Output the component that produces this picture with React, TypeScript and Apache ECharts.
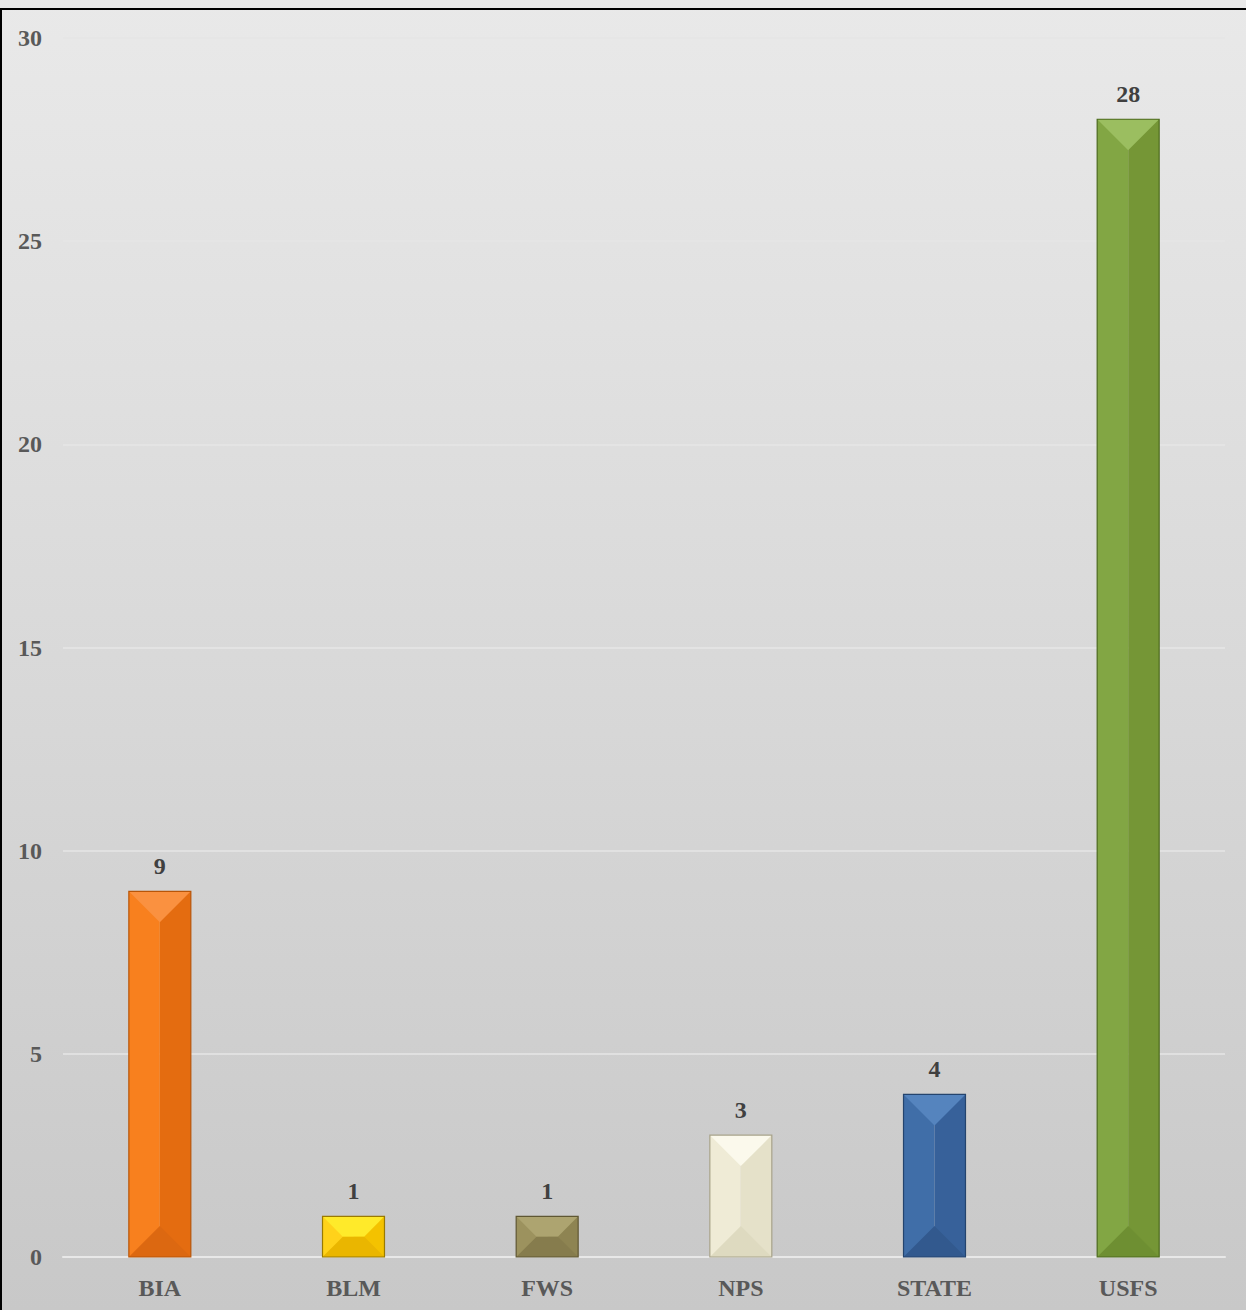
import React, { useEffect, useRef } from "react";
import * as echarts from "echarts";

const categories = ["BIA", "BLM", "FWS", "NPS", "STATE", "USFS"];
const values = [9, 1, 1, 3, 4, 28];
const yTicks = [0, 5, 10, 15, 20, 25, 30];
// [front-left, front-right, top bevel, bottom bevel, border]
const barColors = [
  ["#F8801E", "#E46C10", "#FA9140", "#DC6811", "#B85508"],
  ["#FFD21A", "#F4C200", "#FFEA2A", "#EAB600", "#9A7A00"],
  ["#9C925E", "#8E8452", "#ADA470", "#867C4D", "#5F5733"],
  ["#EFEBD6", "#E5E1C9", "#FBF9EC", "#DEDAC0", "#A8A38A"],
  ["#406EA8", "#37619A", "#5584BE", "#32598E", "#24446E"],
  ["#82A644", "#759636", "#9BBE60", "#6E8F32", "#4C6A1E"],
];

export default function App() {
  const ref = useRef<HTMLDivElement>(null);
  useEffect(() => {
    document.body.style.margin = "0";
    const chart = echarts.init(ref.current!, null, { renderer: "svg" });
    const font = "'Liberation Serif', 'DejaVu Serif', serif";
    chart.setOption({
      animation: false,
      backgroundColor: {
        type: "linear", x: 0, y: 0, x2: 0, y2: 1,
        colorStops: [
          { offset: 0, color: "#E9E9E9" },
          { offset: 0.5, color: "#D9D9D9" },
          { offset: 1, color: "#C8C8C8" },
        ],
      },
      graphic: [
        { type: "line", shape: { x1: 0, y1: 9, x2: 1246, y2: 9 }, style: { stroke: "#000", lineWidth: 2 }, z: 100 },
        { type: "line", shape: { x1: 1, y1: 9, x2: 1, y2: 1310 }, style: { stroke: "#000", lineWidth: 2 }, z: 100 },
      ],
      grid: { left: 63, right: 21, top: 38, bottom: 53, containLabel: false },
      xAxis: {
        type: "category",
        data: categories,
        axisLine: { show: true, lineStyle: { color: "#E8E8E8", width: 2 } },
        axisTick: { show: false },
        axisLabel: { color: "#595959", fontFamily: font, fontWeight: "bold", fontSize: 24, margin: 19 },
      },
      yAxis: {
        type: "value",
        min: 0,
        max: 30,
        interval: 5,
        axisLine: { show: false },
        axisTick: { show: false },
        splitLine: { lineStyle: { color: "#E6E6E6", width: 1.5 } },
        axisLabel: { color: "#595959", fontFamily: font, fontWeight: "bold", fontSize: 24, margin: 21,
          formatter: (v: number) => (yTicks.includes(v) ? String(v) : "") },
      },
      series: [
        {
          type: "custom",
          data: values.map((v, i) => [i, v]),
          renderItem: (params: any, api: any) => {
            const idx = api.value(0);
            const val = api.value(1);
            const top = api.coord([idx, val]);
            const bot = api.coord([idx, 0]);
            const w = api.size([1, 0])[0] * 0.32;
            const x0 = top[0] - w / 2;
            const x1 = top[0] + w / 2;
            const y0 = top[1];
            const y1 = bot[1];
            const h = y1 - y0;
            const d = Math.min(w / 2, h / 2);
            const c = barColors[params.dataIndex];
            const xc = top[0];
            const topPts = d < w / 2
              ? [[x0, y0], [x1, y0], [x1 - d, y0 + d], [x0 + d, y0 + d]]
              : [[x0, y0], [x1, y0], [xc, y0 + d]];
            const botPts = d < w / 2
              ? [[x0, y1], [x1, y1], [x1 - d, y1 - d], [x0 + d, y1 - d]]
              : [[x0, y1], [x1, y1], [xc, y1 - d]];
            return {
              type: "group",
              children: [
                { type: "rect", shape: { x: x0, y: y0, width: w / 2, height: h }, style: { fill: c[0] } },
                { type: "rect", shape: { x: xc, y: y0, width: w / 2, height: h }, style: { fill: c[1] } },
                { type: "polygon", shape: { points: topPts }, style: { fill: c[2] } },
                { type: "polygon", shape: { points: botPts }, style: { fill: c[3] } },
                { type: "rect", shape: { x: x0, y: y0, width: w, height: h }, style: { fill: "none", stroke: c[4], lineWidth: 1.2 } },
                {
                  type: "text",
                  x: xc,
                  y: y0 - 13,
                  style: {
                    text: String(val),
                    fill: "#404040",
                    font: `bold 24px ${font}`,
                    align: "center",
                    verticalAlign: "bottom",
                  },
                },
              ],
            };
          },
        },
      ],
    });
    return () => chart.dispose();
  }, []);
  return <div ref={ref} style={{ width: 1246, height: 1310 }} />;
}
